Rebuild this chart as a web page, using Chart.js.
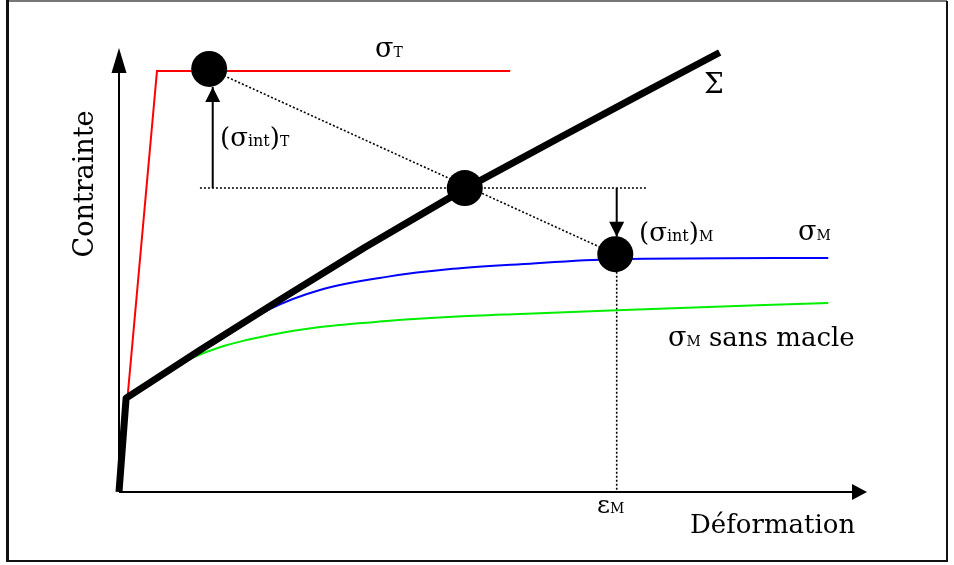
<!DOCTYPE html>
<html>
<head>
<meta charset="utf-8">
<script src="https://cdn.jsdelivr.net/npm/chart.js@4/dist/chart.umd.min.js"></script>
<style>
  html, body { margin: 0; padding: 0; background: #fff; }
  canvas { display: block; }
</style>
</head>
<body>
<canvas id="myChart" width="954" height="565"></canvas>
<script>
// Déformation (x) / Contrainte (y), unités arbitraires 0-100

// courbe globale Sigma
var sigmaX = [0, 1.0, 11.4, 22.7, 34.6, 48.7, 62.1, 73.4, 84.6];
var sigmaY = [0, 22.3, 33.7, 45.7, 58.1, 72.0, 84.2, 94.4, 104.4];

// sigma T (phase dure)
var sigmaTX = [0, 5.35, 55.1];
var sigmaTY = [0, 100, 100];

// sigma M (avec macle)
var sigmaMX = [1.0, 6.2, 14.2, 21.3, 28.3, 37.7, 47.0, 56.5, 69.7, 99.9];
var sigmaMY = [22.3, 28.3, 36.1, 43.5, 48.0, 51.1, 53.0, 54.1, 55.3, 55.6];

// sigma M sans macle
var sansMacleX = [1.0, 5.8, 10.0, 14.2, 21.3, 28.3, 37.7, 47.0, 56.5, 70.1, 99.9];
var sansMacleY = [22.3, 27.5, 31.6, 34.4, 37.3, 39.2, 40.6, 41.6, 42.3, 43.2, 44.9];

// points d'état (T, moyenne, M)
var etatX = [12.7, 48.7, 69.9];
var etatY = [100.5, 72.2, 56.5];

// lignes de construction
var diagX = [12.7, 69.9];
var diagY = [100.5, 56.5];
var horizX = [11.4, 74.4];
var horizY = [72.2, 72.2];
var epsMX = [70.1, 70.1];
var epsMY = [52.3, 0];

// contraintes internes (flèches)
var intTX = [13.2, 13.2];
var intTY = [72.2, 96.2];
var intMX = [70.1, 70.1];
var intMY = [72.2, 60.6];

function toPoints(xs, ys) {
    return xs.map(function(x, i) { return { x: x, y: ys[i] }; });
}

var serif = '"DejaVu Serif", "Liberation Serif", serif';

// texte avec indices en petites capitales
function drawRich(ctx, x, y, parts) {
    parts.forEach(function(p) {
        ctx.font = p[1] + 'px ' + serif;
        ctx.fillText(p[0], x, y);
        x += ctx.measureText(p[0]).width;
    });
}

function arrowHead(ctx, tx, ty, dx, dy, len, half) {
    // dx, dy : direction unitaire de la flèche
    var bx = tx - dx * len, by = ty - dy * len;
    ctx.beginPath();
    ctx.moveTo(tx, ty);
    ctx.lineTo(bx - dy * half, by + dx * half);
    ctx.lineTo(bx + dy * half, by - dx * half);
    ctx.closePath();
    ctx.fill();
}

var schema = {
    id: 'schema',
    beforeDatasetsDraw: function(chart) {
        var ctx = chart.ctx;
        var sx = chart.scales.x, sy = chart.scales.y;
        var x0 = sx.getPixelForValue(0), y0 = sy.getPixelForValue(0);
        ctx.save();
        ctx.strokeStyle = '#000';
        ctx.fillStyle = '#000';
        ctx.lineWidth = 2;
        // axes
        ctx.beginPath();
        ctx.moveTo(x0, y0);
        ctx.lineTo(x0, 70);
        ctx.moveTo(x0, y0);
        ctx.lineTo(853, y0);
        ctx.stroke();
        arrowHead(ctx, x0, 48, 0, -1, 25, 7.5);
        arrowHead(ctx, 867, y0, 1, 0, 15, 8);
        ctx.restore();
    },
    afterDatasetsDraw: function(chart) {
        var ctx = chart.ctx;
        var sx = chart.scales.x, sy = chart.scales.y;
        ctx.save();
        ctx.fillStyle = '#000';
        // pointes des flèches de contrainte interne
        arrowHead(ctx, sx.getPixelForValue(intTX[1]), sy.getPixelForValue(intTY[1]), 0, -1, 15, 7.5);
        arrowHead(ctx, sx.getPixelForValue(intMX[1]), sy.getPixelForValue(intMY[1]), 0, 1, 15, 7.5);

        ctx.textBaseline = 'alphabetic';
        ctx.textAlign = 'left';
        drawRich(ctx, 375, 57, [['σ', 27], ['T', 14]]);
        drawRich(ctx, 704, 93, [['Σ', 28]]);
        drawRich(ctx, 220, 146, [['(', 26], ['σ', 26], ['int', 16], [')', 26], ['T', 14]]);
        drawRich(ctx, 639, 241, [['(', 26], ['σ', 26], ['int', 16], [')', 26], ['M', 14]]);
        drawRich(ctx, 798, 240, [['σ', 27], ['M', 14]]);
        drawRich(ctx, 668, 346, [['σ', 27], ['M', 14], [' sans macle', 26]]);
        drawRich(ctx, 597, 513, [['ε', 25], ['M', 14]]);
        drawRich(ctx, 690, 533, [['Déformation', 26]]);

        ctx.translate(93, 184);
        ctx.rotate(-Math.PI / 2);
        ctx.textAlign = 'center';
        ctx.font = '27px ' + serif;
        ctx.fillText('Contrainte', 0, 0);
        ctx.restore();
    },
    afterDraw: function(chart) {
        var ctx = chart.ctx;
        ctx.save();
        ctx.lineWidth = 2;
        ctx.strokeStyle = '#777';
        ctx.beginPath();
        ctx.moveTo(7, 1);
        ctx.lineTo(947, 1);
        ctx.stroke();
        ctx.strokeStyle = '#111';
        ctx.lineWidth = 3;
        ctx.beginPath();
        ctx.moveTo(7.5, 0);
        ctx.lineTo(7.5, 562);
        ctx.stroke();
        ctx.lineWidth = 2;
        ctx.beginPath();
        ctx.moveTo(7, 561);
        ctx.lineTo(947, 561);
        ctx.lineTo(947, 1);
        ctx.stroke();
        ctx.restore();
    }
};

var dotted = [2, 2];

var ctx = document.getElementById('myChart').getContext('2d');
var myChart = new Chart(ctx, {
    type: 'line',
    data: {
        datasets: [{
            label: 'états',
            data: toPoints(etatX, etatY),
            showLine: false,
            pointRadius: 18,
            pointBackgroundColor: '#000',
            pointBorderWidth: 0
        }, {
            label: 'Σ',
            data: toPoints(sigmaX, sigmaY),
            borderColor: '#000',
            borderWidth: 7,
            borderCapStyle: 'butt',
            borderJoinStyle: 'round'
        }, {
            label: 'σT',
            data: toPoints(sigmaTX, sigmaTY),
            borderColor: '#ff0000',
            borderWidth: 2
        }, {
            label: 'σM',
            data: toPoints(sigmaMX, sigmaMY),
            borderColor: '#0000ff',
            borderWidth: 2,
            cubicInterpolationMode: 'monotone'
        }, {
            label: 'σM sans macle',
            data: toPoints(sansMacleX, sansMacleY),
            borderColor: '#00ee00',
            borderWidth: 2,
            cubicInterpolationMode: 'monotone'
        }, {
            label: 'diagonale',
            data: toPoints(diagX, diagY),
            borderColor: '#000',
            borderWidth: 1.6,
            borderDash: dotted
        }, {
            label: 'horizontale',
            data: toPoints(horizX, horizY),
            borderColor: '#000',
            borderWidth: 1.6,
            borderDash: dotted
        }, {
            label: 'εM',
            data: toPoints(epsMX, epsMY),
            borderColor: '#000',
            borderWidth: 1.6,
            borderDash: dotted
        }, {
            label: '(σint)T',
            data: toPoints(intTX, intTY),
            borderColor: '#000',
            borderWidth: 2
        }, {
            label: '(σint)M',
            data: toPoints(intMX, intMY),
            borderColor: '#000',
            borderWidth: 2
        }]
    },
    options: {
        responsive: false,
        animation: false,
        layout: { padding: { left: 119, right: 125, top: 71, bottom: 73 } },
        elements: {
            point: { radius: 0, hoverRadius: 0 },
            line: { tension: 0, fill: false }
        },
        datasets: { line: { clip: false } },
        plugins: {
            legend: { display: false },
            tooltip: { enabled: false }
        },
        scales: {
            x: { type: 'linear', min: 0, max: 100, display: false },
            y: { type: 'linear', min: 0, max: 100, display: false }
        }
    },
    plugins: [schema]
});
</script>
</body>
</html>
